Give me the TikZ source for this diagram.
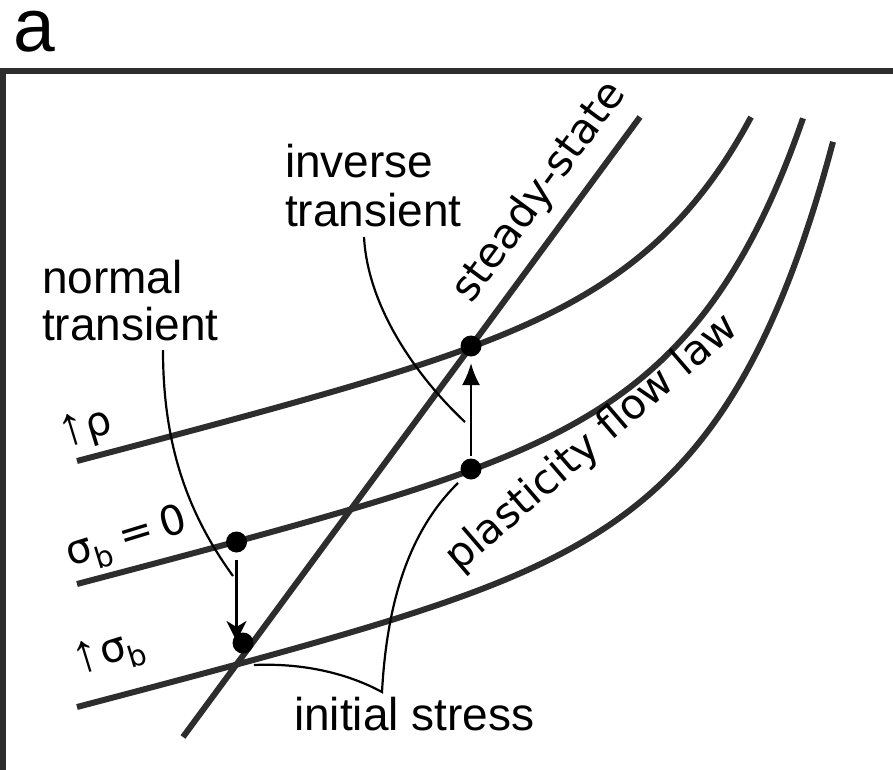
\documentclass[tikz,border=0pt]{standalone}
\usepackage{fontspec}
\setmainfont{Liberation Sans}
\newfontfamily\dej{DejaVu Sans}
\newfontfamily\lib{Liberation Sans}
\usetikzlibrary{arrows.meta,calc}
\definecolor{crv}{RGB}{45,45,45}
\newcommand{\upar}{{\lib\fontsize{54}{54}\selectfont ↑}}
\newcommand{\subb}{\raisebox{-0.25em}{\fontsize{29}{29}\selectfont b}}
\begin{document}
\begin{tikzpicture}[x=1pt,y=-1pt,
 declare function={fl(\t)=584-0.26*(\t-77)-17.85*(exp((\t-515)/105)-0.0155);},
 curve/.style={line width=6pt, draw=crv},
 lead/.style={line width=2.2pt, draw=black},
 arr/.style={line width=2.6pt, draw=black},
 dot/.style={circle, fill=black, minimum size=21pt, inner sep=0pt},
 lbl/.style={inner sep=0pt, anchor=base west},
 glbl/.style={inner sep=0pt, anchor=base west, font=\dej\fontsize{42}{42}\selectfont},
 gc/.style={inner sep=0pt, anchor=center, font=\dej\fontsize{41}{41}\selectfont},
]
\useasboundingbox (0,0) rectangle (893,770);
% frame
\coordinate (fbl) at (3,770);
\coordinate (ftl) at (3,71.5);
\coordinate (ftr) at (893,71.5);
\draw[line width=6pt, crv] (fbl) -- (ftl) -- (ftr);
\node[lbl, font=\fontsize{75}{75}\selectfont] (panel) at (13,52) {a};

% flow-law curves
\draw[curve] plot[domain=77:751, samples=160] (\x, {fl(\x)-123});
\draw[curve] plot[domain=77:803, samples=160] (\x, {fl(\x)});
\draw[curve] plot[domain=77:833, samples=160] (\x, {fl(\x)+123});
% steady-state line
\coordinate (ssA) at (183,737);
\coordinate (ssB) at (640,117);
\draw[curve] (ssA) -- (ssB);

% point positions
\coordinate (p1) at (236.5,542);
\coordinate (p2) at (243,643);
\coordinate (p3) at (471,469);
\coordinate (p4) at (471,346);
\coordinate (ta) at (236.5,641);

% arrows
\draw[arr, -{Latex[length=22pt,width=18pt]}, shorten <=13pt, shorten >=17pt] (p3) -- (p4);
\draw[arr, -{Stealth[length=20pt,width=20pt,inset=6pt]}, shorten <=18pt] (p1) -- (ta);

% labels
\node[lbl, font=\fontsize{46}{47}\selectfont] (nt) at (42,293)
  {\begin{tabular}[t]{@{}l@{}}normal\\transient\end{tabular}};
\node[lbl, font=\fontsize{46}{49}\selectfont] (it) at (285,177)
  {\begin{tabular}[t]{@{}l@{}}inverse\\transient\end{tabular}};
\node[lbl, font=\fontsize{46}{46}\selectfont] (is) at (294,730) {initial stress};
\node[gc, rotate=17] (rho) at (86,429) {\upar ρ};
\node[glbl, font=\dej\fontsize{41}{41}\selectfont, rotate=17] (sb0) at (70,567) {σ\subb\kern11pt=\kern9pt0};
\node[gc, rotate=17] (sb) at (109,654) {\upar\kern1ptσ\subb};
\node[glbl, rotate=53.6] (ss) at (471,305) {steady-state};
\node[glbl, font=\dej\fontsize{41.5}{41.5}\selectfont, rotate=40.7] (pfl) at (459,573) {plasticity flow law};

% leaders
\coordinate (ntA) at (163,350);
\coordinate (ntB) at (233,576);
\draw[lead] (ntA) .. controls (163,440) and (185,510) .. (ntB);
\coordinate (itA) at (364,237);
\coordinate (itB) at (465,422);
\draw[lead] (itA) .. controls (368,310) and (420,380) .. (itB);
\coordinate (isL) at (254,665);
\coordinate (isT) at (382,692);
\coordinate (isR) at (458,483);
\draw[lead] (isL) .. controls (300,663) and (345,672) .. (isT)
            .. controls (387,600) and (410,530) .. (isR);

% dots
\node[dot] (d1) at (p1) {};
\node[dot] (d2) at (p2) {};
\node[dot] (d3) at (p3) {};
\node[dot] (d4) at (p4) {};
\end{tikzpicture}
\end{document}
